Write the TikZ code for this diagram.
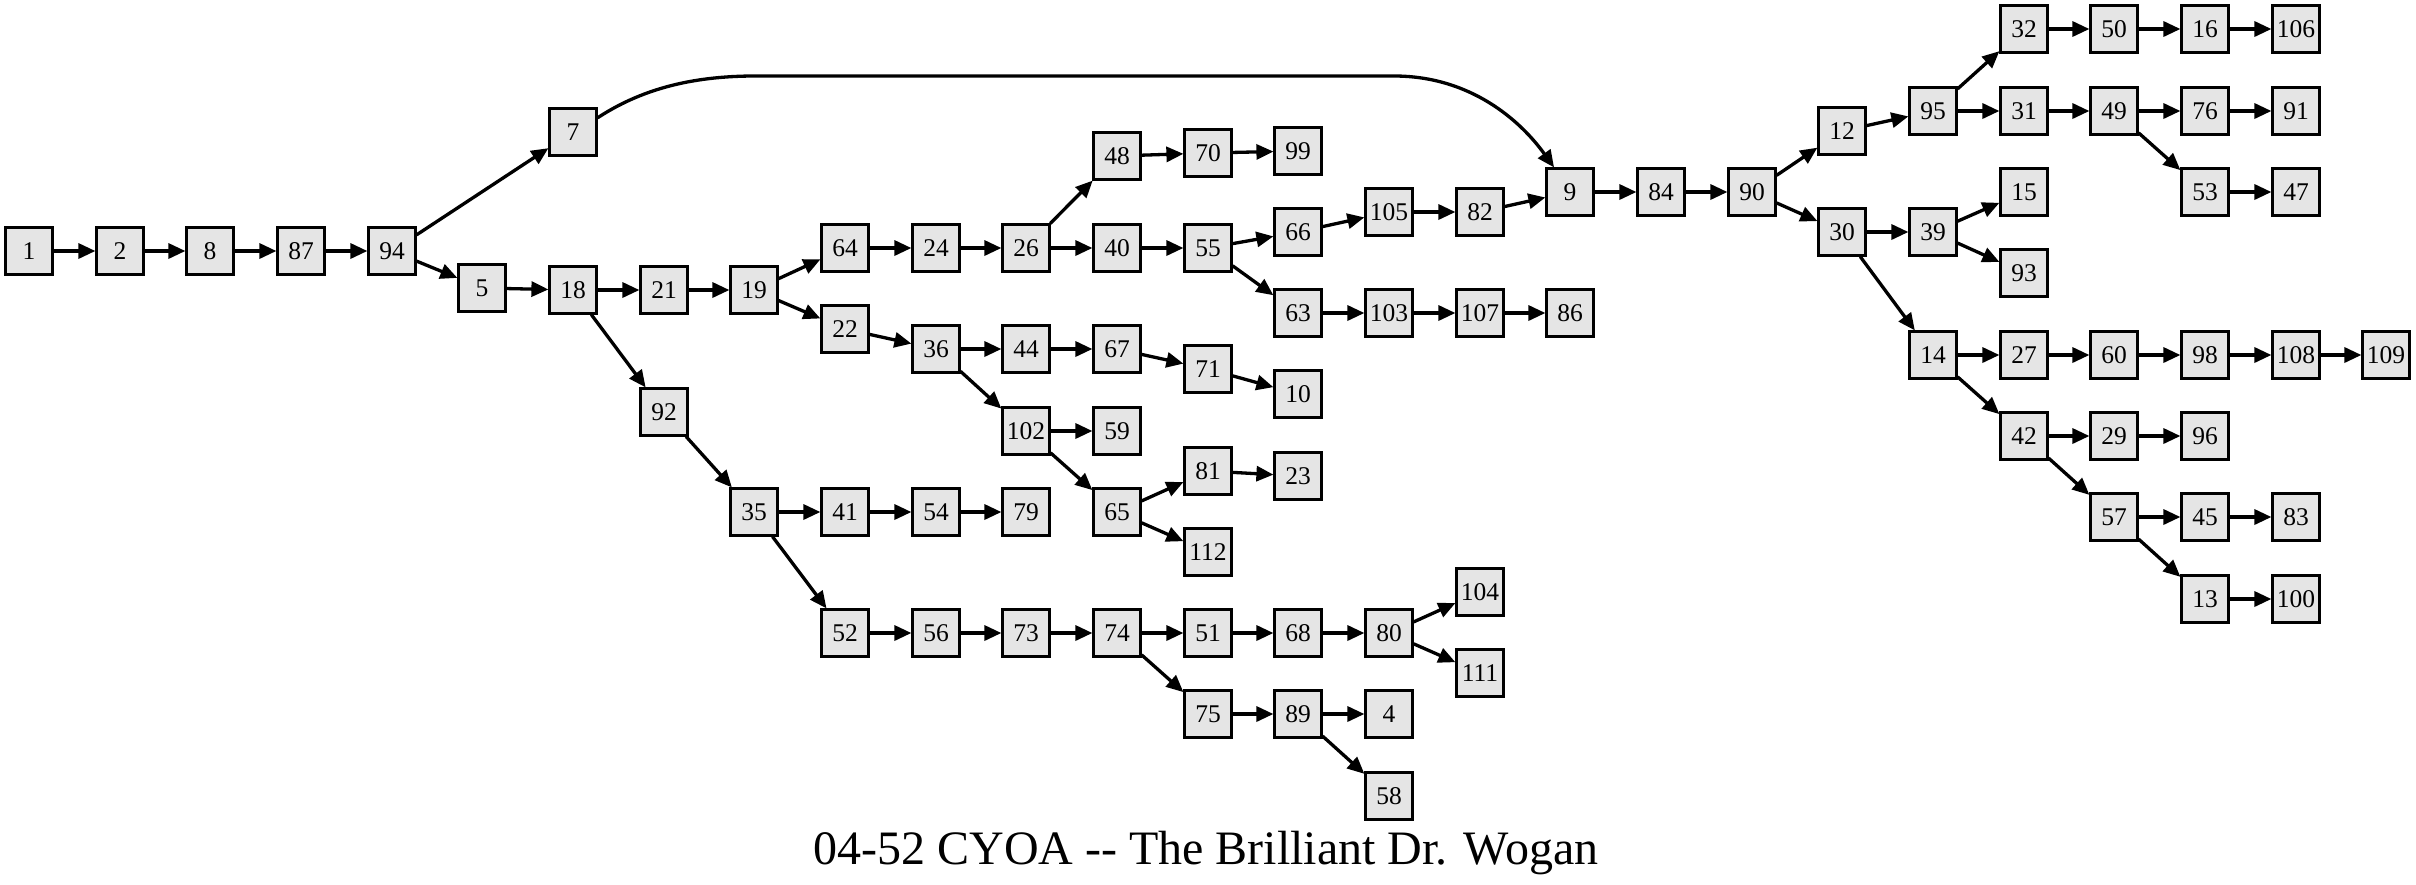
\documentclass[tikz,border=0pt]{standalone}
\usepackage{fontspec}
\setmainfont{Liberation Serif}
\usetikzlibrary{arrows.meta}
\definecolor{boxfill}{HTML}{E5E5E5}
\begin{document}
\begin{tikzpicture}[x=1pt,y=-1pt,
  nbox/.style={draw=black,fill=boxfill,line width=2.2pt,minimum width=47pt,minimum height=47pt,inner sep=0pt,font=\fontsize{25.5}{25.5}\selectfont},
  conn/.style={line width=3.3pt,-{Triangle[length=17pt,width=15pt]}},
  titletext/.style={anchor=base,inner sep=0pt,font=\fontsize{48}{48}\selectfont}]
\useasboundingbox (0,0) rectangle (2416,884);
\foreach \n/\x/\y in {1/29/251, 2/120/251, 8/210/251, 87/301/251, 94/392/251,
  7/573/132, 5/482/288, 18/573/290, 21/664/290, 19/754/290, 92/664/412,
  64/845/248, 22/845/329, 24/936/248, 26/1026/248, 48/1117/156, 70/1208/153, 99/1298/151,
  40/1117/248, 55/1208/248, 66/1298/232, 105/1389/212, 82/1480/212, 9/1570/192,
  63/1298/313, 103/1389/313, 107/1480/313, 86/1570/313,
  36/936/349, 44/1026/349, 67/1117/349, 71/1208/369, 10/1298/394,
  102/1026/431, 59/1117/431, 65/1117/512, 81/1208/471, 23/1298/476, 112/1208/552,
  35/754/512, 41/845/512, 54/936/512, 79/1026/512,
  52/845/633, 56/936/633, 73/1026/633, 74/1117/633, 51/1208/633, 68/1298/633, 80/1389/633,
  104/1480/592, 111/1480/673, 75/1208/714, 89/1298/714, 4/1389/714, 58/1389/796,
  84/1661/192, 90/1752/192, 12/1842/131, 95/1933/111,
  32/2024/29, 50/2114/29, 16/2205/29, 106/2296/29,
  31/2024/111, 49/2114/111, 76/2205/111, 91/2296/111, 53/2205/192, 47/2296/192,
  30/1842/232, 39/1933/232, 15/2024/192, 93/2024/273,
  14/1933/355, 27/2024/355, 60/2114/355, 98/2205/355, 108/2296/355, 109/2386/355,
  42/2024/436, 29/2114/436, 96/2205/436, 57/2114/517, 45/2205/517, 83/2296/517,
  13/2205/599, 100/2296/599}
  \node[nbox] (n\n) at (\x,\y) {\n};
\foreach \a/\b in {1/2, 2/8, 8/87, 87/94, 94/7, 94/5, 5/18, 18/21, 18/92, 21/19,
  19/64, 19/22, 64/24, 24/26, 26/48, 26/40, 48/70, 70/99, 40/55, 55/66, 55/63,
  66/105, 105/82, 82/9, 9/84, 84/90, 90/12, 90/30, 12/95, 95/32, 95/31,
  32/50, 50/16, 16/106, 31/49, 49/76, 76/91, 49/53, 53/47,
  30/39, 30/14, 39/15, 39/93, 14/27, 27/60, 60/98, 98/108, 108/109,
  14/42, 42/29, 29/96, 42/57, 57/45, 45/83, 57/13, 13/100,
  63/103, 103/107, 107/86, 22/36, 36/44, 44/67, 67/71, 71/10,
  36/102, 102/59, 102/65, 65/81, 81/23, 65/112,
  92/35, 35/41, 41/54, 54/79, 35/52, 52/56, 56/73, 73/74, 74/51, 51/68, 68/80,
  80/104, 80/111, 74/75, 75/89, 89/4, 89/58}
  \draw[conn] (n\a) -- (n\b);
\draw[conn] (n7.30) .. controls (640,90) and (690,76) .. (755,76) -- (1394,76)
  .. controls (1470,76) and (1520,120) .. (n9.123);
\node[titletext] (title) at (1206,864) {04-52 CYOA -{}- The Brilliant Dr. Wogan};
\end{tikzpicture}
\end{document}
